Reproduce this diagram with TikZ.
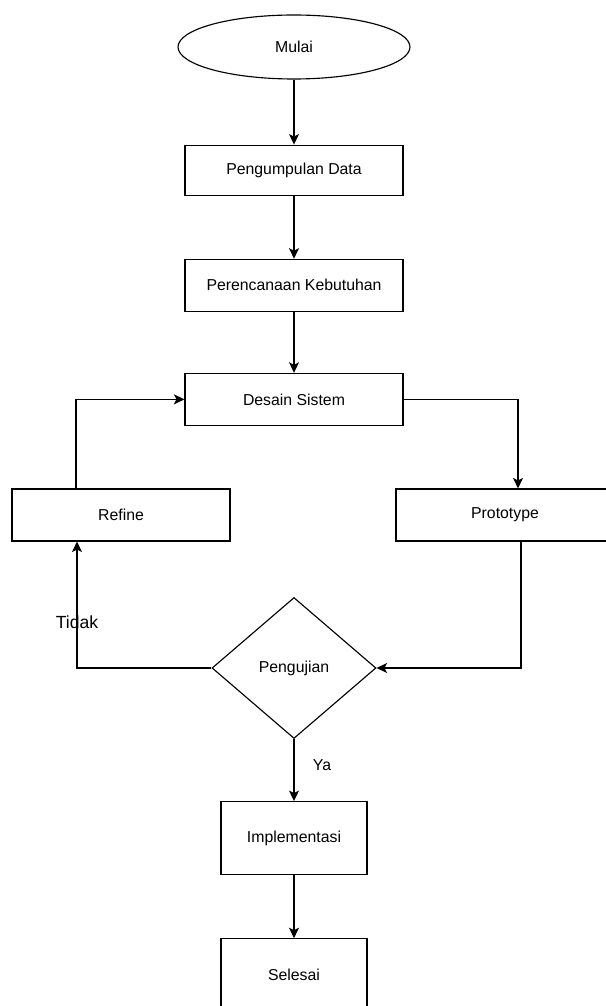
\documentclass[tikz,border=0pt]{standalone}
\usepackage{fontspec}
\setmainfont{Liberation Sans}
\usetikzlibrary{shapes,arrows.meta,positioning}

\begin{document}
\begin{tikzpicture}[x=0.02cm, y=-0.02cm, >={Stealth[length=0.21cm, width=0.2cm, inset=0.05cm]}, line width=0.65pt,
    every node/.style={font=\fontsize{9}{11}\selectfont},
    prosesbox/.style={rectangle, draw, minimum width=4.36cm, minimum height=1.04cm, inner sep=0pt},
    kecilbox/.style={rectangle, draw, minimum width=2.92cm, minimum height=1.46cm, inner sep=0pt}]
    \useasboundingbox[fill=white] (0,0) rectangle (605,1006);

    \node (mulai) [ellipse, draw, minimum width=4.64cm, minimum height=1.28cm, inner sep=0pt] at (294,47) {Mulai};
    \node (kumpul) [prosesbox, minimum height=1.0cm, below=1.3cm of mulai] {Pengumpulan Data};
    \node (rencana) [prosesbox, below=1.26cm of kumpul] {Perencanaan Kebutuhan};
    \node (desain) [prosesbox, below=1.22cm of rencana] {Desain Sistem};
    \node (refine) [prosesbox] at (121,515) {Refine};
    \node (prototype) [prosesbox] at (505,515) {Prototype};
    \node (uji) [diamond, draw, minimum width=3.28cm, minimum height=2.82cm, inner sep=0pt] at (294,668) {Pengujian};
    \node (implementasi) [kecilbox, below=1.24cm of uji] {Implementasi};
    \node (selesai) [kecilbox, below=1.26cm of implementasi] {Selesai};

    \draw[->] (mulai) -- (kumpul);
    \draw[->] (kumpul) -- (rencana);
    \draw[->] (rencana) -- (desain);
    \draw[->] (desain.east) -| ([xshift=0.26cm]prototype.north);
    \draw[->] ([xshift=0.32cm]prototype.south) |- (uji.east);
    \draw[->] (uji.west) -| ([xshift=-0.88cm]refine.south) node[pos=0.68, font=\fontsize{10}{12}\selectfont] {Tidak};
    \draw[->] ([xshift=-0.9cm]refine.north) |- (desain.west);
    \draw[->] (uji) -- (implementasi) node[pos=0.42, right=0.25cm] {Ya};
    \draw[->] (implementasi) -- (selesai);
\end{tikzpicture}
\end{document}
